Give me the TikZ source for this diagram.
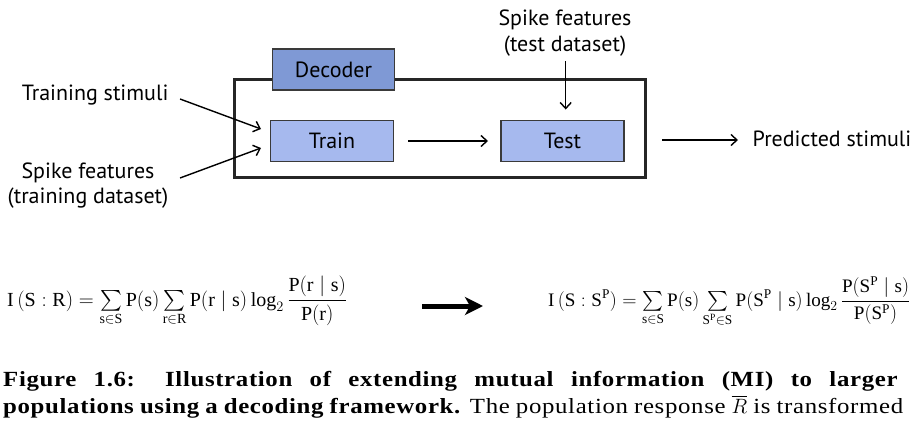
\documentclass[tikz,border=0pt]{standalone}
\usepackage{amsmath}
\usepackage{fontspec}
\setmainfont{Liberation Serif}
\newfontfamily\diagfont{PT Sans}
\newfontfamily\capfont[FakeStretch=1.15,LetterSpace=3]{Liberation Serif}
\usetikzlibrary{arrows.meta}
\definecolor{decfill}{HTML}{7F99D5}
\definecolor{boxfill}{HTML}{A6B9EE}
\definecolor{boxline}{HTML}{3A3A3A}
\tikzset{
  lbl/.style={font=\diagfont\fontsize{22}{26}\selectfont, inner sep=0pt},
  bluebox/.style={draw=boxline, line width=1.5pt, fill=boxfill, inner sep=0pt, font=\diagfont\fontsize{22}{26}\selectfont},
  conn/.style={line width=1.4pt, -{Straight Barb[length=6pt,width=11pt,line width=1.4pt]}},
  eq/.style={inner sep=0pt, font=\fontsize{20}{24}\selectfont},
  capline/.style={inner sep=0pt, anchor=base west, font=\capfont\fontsize{21.6}{26}\selectfont},
  bigarrow/.style={line width=5pt, -{Stealth[length=18pt,width=18pt,inset=5pt]}}
}
\begin{document}
\begin{tikzpicture}[x=1pt,y=-1pt]
\useasboundingbox (0,0) rectangle (923,426);
% outer decoder frame
\draw[line width=3pt, black!85] (234.5,79.5) rectangle (645.5,177);
% decoder tab
\node[bluebox, fill=decfill, minimum width=122pt, minimum height=41pt] (dec) at (333.5,69.5) {Decoder};
% train and test
\node[bluebox, minimum width=123pt, minimum height=41pt] (train) at (332,141) {Train};
\node[bluebox, minimum width=123pt, minimum height=41pt] (test) at (562.5,141) {Test};
% labels
\node[lbl, anchor=base west] (ts) at (21.7,100) {Training stimuli};
\node[lbl, anchor=base] (sf1) at (88,178) {Spike features};
\node[lbl, anchor=base] (sf2) at (88,203) {(training dataset)};
\node[lbl, anchor=base] (tf1) at (565,25) {Spike features};
\node[lbl, anchor=base] (tf2) at (565,51) {(test dataset)};
\node[lbl, anchor=base west] (pred) at (752.5,146) {Predicted stimuli};
% coordinates for free ends
\coordinate (a1s) at (180,99);
\coordinate (a1e) at (261,129);
\coordinate (a2s) at (180,178);
\coordinate (a2e) at (261,148);
\coordinate (trs) at (408,141);
\coordinate (tre) at (488,141);
\coordinate (tds) at (565.7,61);
\coordinate (tde) at (565.7,109.5);
\coordinate (ps) at (662,140);
\coordinate (pe) at (738,140);
\draw[conn] (a1s) -- (a1e);
\draw[conn] (a2s) -- (a2e);
\draw[conn] (trs) -- (tre);
\draw[conn] (tds) -- (tde);
\draw[conn] (ps) -- (pe);
% equations
\node[eq, anchor=base west] (eqL) at (7,306) {\resizebox{340pt}{!}{$\mathrm{I\,(S:R)} = \sum\limits_{\mathrm{s}\in \mathrm{S}} \mathrm{P(s)} \sum\limits_{\mathrm{r}\in\mathrm{R}} \mathrm{P(r\mid s)}\,\mathrm{log}_2\,\dfrac{\mathrm{P(r\mid s)}}{\mathrm{P(r)}}$}};
\node[eq, anchor=base west] (eqR) at (548,306) {\resizebox{362pt}{!}{$\mathrm{I\,(S:S^P)} = \sum\limits_{\mathrm{s}\in \mathrm{S}} \mathrm{P(s)} \sum\limits_{\mathrm{S^P}\in\mathrm{S}} \mathrm{P(S^P\mid s)}\,\mathrm{log}_2\,\dfrac{\mathrm{P(S^P\mid s)}}{\mathrm{P(S^P)}}$}};
\coordinate (bas) at (422,306);
\coordinate (bae) at (483,306);
\draw[bigarrow] (bas) -- (bae);
% caption
\node[capline] (cap1) at (3,386) {\makebox[895pt][s]{\textbf{Figure 1.6: Illustration of extending mutual information (MI) to larger}}};
\node[capline] (cap2) at (3,413) {\makebox[900pt][s]{\textbf{populations using a decoding framework.} The population response $\overline{R}$ is transformed}};
\end{tikzpicture}
\end{document}
